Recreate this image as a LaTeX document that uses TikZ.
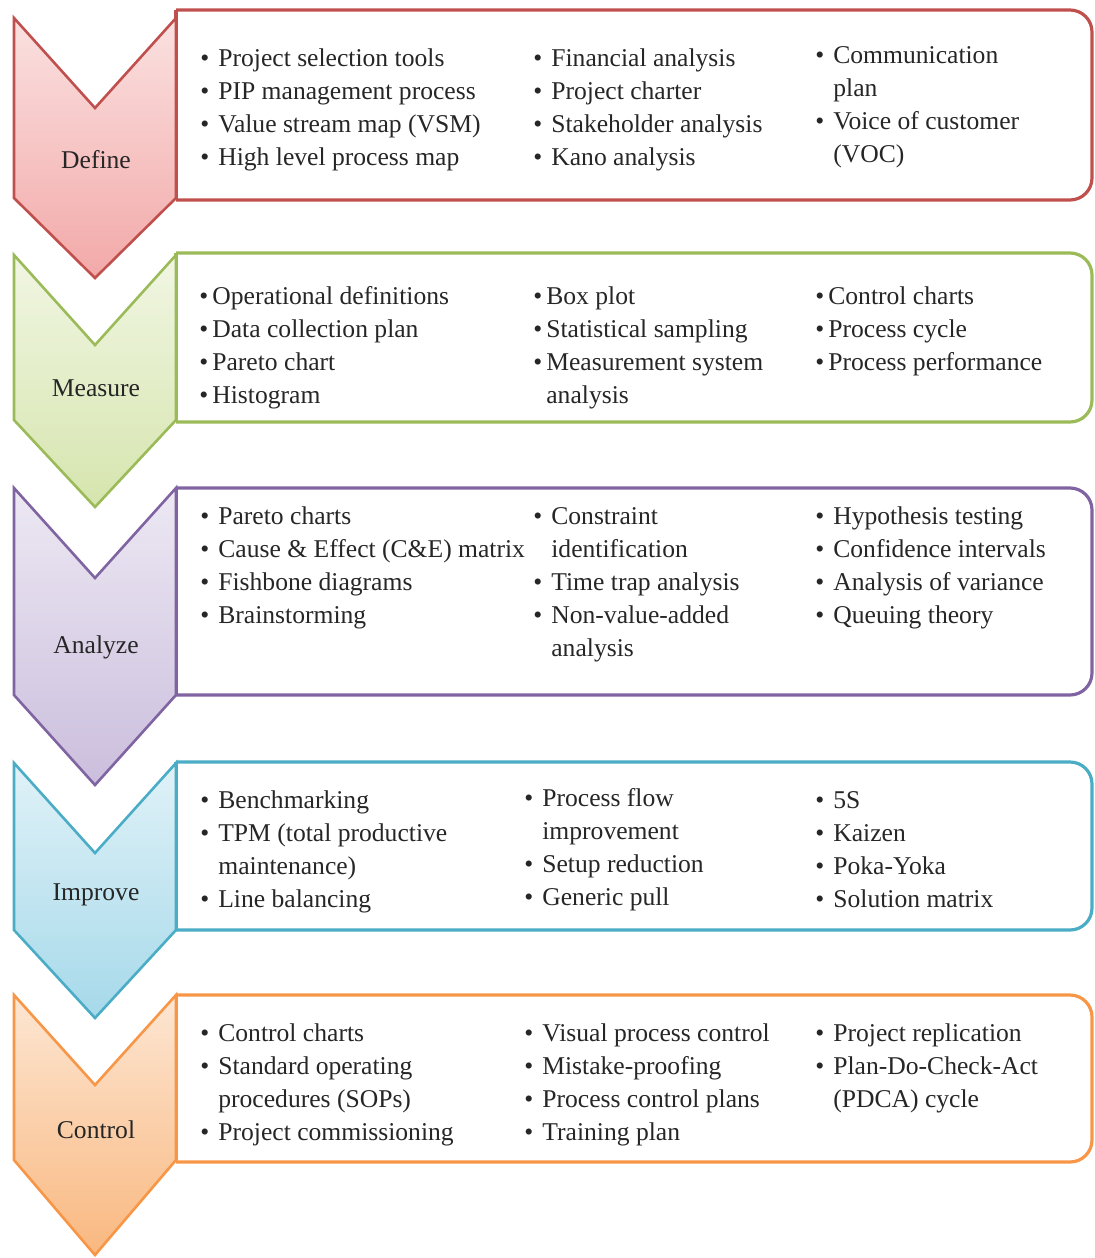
\documentclass[tikz,border=0pt]{standalone}
\usepackage{fontspec}
\setmainfont{Liberation Serif}
\usepackage{xcolor}
\usepackage{tikz}
\usetikzlibrary{positioning}

\definecolor{defline}{HTML}{C0504D}
\definecolor{deffill}{HTML}{F2A9A8}
\definecolor{measline}{HTML}{9BBB59}
\definecolor{measfill}{HTML}{D6E5AE}
\definecolor{analine}{HTML}{8064A2}
\definecolor{anafill}{HTML}{CBBEDD}
\definecolor{impline}{HTML}{4BACC6}
\definecolor{impfill}{HTML}{A6D9EA}
\definecolor{conline}{HTML}{F79646}
\definecolor{confill}{HTML}{F9B880}

% bullet list as a two column tabular
\newcommand{\bulletcol}[2][4.5pt]{\begin{tabular}[t]{@{}l@{\hspace{#1}}l@{}}#2\end{tabular}}

\begin{document}
\begin{tikzpicture}[x=0.5pt, y=-0.5pt,
    every node/.style={font=\fontsize{12.8}{16.6}\selectfont, text=black!85},
    chevron/.style={line width=1.3pt, line join=miter},
    stagebox/.style={line width=1.6pt, rounded corners=11pt},
    items/.style={anchor=base west, inner sep=0pt}]
    \useasboundingbox (0,0) rectangle (1094,1258);

    % Frames and chevrons
    \foreach \name/\txt/\ly/\bt/\bb/\ct/\cb/\cp/\ln/\fl in {
        define/Define/160/10/200/18/198/278/defline/deffill,
        measure/Measure/388/253/422/255/420/507/measline/measfill,
        analyze/Analyze/647/488/695/488/695/785/analine/anafill,
        improve/Improve/895/762/930/763/930/1018/impline/impfill,
        control/Control/1130/995/1162/995/1160/1255/conline/confill} {
        \draw[stagebox, draw=\ln] (176,\bt) -- (1092,\bt) -- (1092,\bb) -- (176,\bb);
        \draw[line width=1.6pt, draw=\ln] (176,\bt) -- (176,\bb);
        \shade[top color=\fl!35!white, bottom color=\fl]
            (14,\ct) -- (95,\ct+90) -- (176,\ct) -- (176,\cb) -- (95,\cp) -- (14,\cb) -- cycle;
        \draw[chevron, draw=\ln]
            (14,\ct) -- (95,\ct+90) -- (176,\ct) -- (176,\cb) -- (95,\cp) -- (14,\cb) -- cycle;
        \node (\name) at (96,\ly) {\txt};
    }

    % Define
    \node[items] (define-a) at (200,66) {\bulletcol{\textbullet & Project selection tools\\
        \textbullet & PIP management process\\ \textbullet & Value stream map (VSM)\\
        \textbullet & High level process map}};
    \node[items] (define-b) at (533,66) {\bulletcol{\textbullet & Financial analysis\\
        \textbullet & Project charter\\ \textbullet & Stakeholder analysis\\
        \textbullet & Kano analysis}};
    \node[items] (define-c) at (815,63) {\bulletcol{\textbullet & Communication\\
        & plan\\ \textbullet & Voice of customer\\ & (VOC)}};

    % Measure
    \node[items] (measure-a) at (199,304) {\bulletcol[2pt]{\textbullet & Operational definitions\\
        \textbullet & Data collection plan\\ \textbullet & Pareto chart\\
        \textbullet & Histogram}};
    \node[items] (measure-b) at (533,304) {\bulletcol[2pt]{\textbullet & Box plot\\
        \textbullet & Statistical sampling\\ \textbullet & Measurement system\\
        & analysis}};
    \node[items] (measure-c) at (815,304) {\bulletcol[2pt]{\textbullet & Control charts\\
        \textbullet & Process cycle\\ \textbullet & Process performance}};

    % Analyze
    \node[items] (analyze-a) at (200,524) {\bulletcol{\textbullet & Pareto charts\\
        \textbullet & Cause \& Effect (C\&E) matrix\\ \textbullet & Fishbone diagrams\\
        \textbullet & Brainstorming}};
    \node[items] (analyze-b) at (533,524) {\bulletcol{\textbullet & Constraint\\
        & identification\\ \textbullet & Time trap analysis\\
        \textbullet & Non-value-added\\ & analysis}};
    \node[items] (analyze-c) at (815,524) {\bulletcol{\textbullet & Hypothesis testing\\
        \textbullet & Confidence intervals\\ \textbullet & Analysis of variance\\
        \textbullet & Queuing theory}};

    % Improve
    \node[items] (improve-a) at (200,808) {\bulletcol{\textbullet & Benchmarking\\
        \textbullet & TPM (total productive\\ & maintenance)\\
        \textbullet & Line balancing}};
    \node[items] (improve-b) at (524,806) {\bulletcol{\textbullet & Process flow\\
        & improvement\\ \textbullet & Setup reduction\\
        \textbullet & Generic pull}};
    \node[items] (improve-c) at (815,808) {\bulletcol{\textbullet & 5S\\
        \textbullet & Kaizen\\ \textbullet & Poka-Yoka\\
        \textbullet & Solution matrix}};

    % Control
    \node[items] (control-a) at (200,1041) {\bulletcol{\textbullet & Control charts\\
        \textbullet & Standard operating\\ & procedures (SOPs)\\
        \textbullet & Project commissioning}};
    \node[items] (control-b) at (524,1041) {\bulletcol{\textbullet & Visual process control\\
        \textbullet & Mistake-proofing\\ \textbullet & Process control plans\\
        \textbullet & Training plan}};
    \node[items] (control-c) at (815,1041) {\bulletcol{\textbullet & Project replication\\
        \textbullet & Plan-Do-Check-Act\\ & (PDCA) cycle}};
\end{tikzpicture}
\end{document}
